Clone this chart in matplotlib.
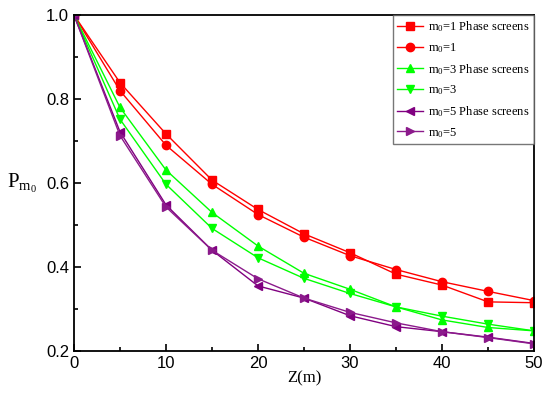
import matplotlib
matplotlib.use("Agg")
from matplotlib import pyplot as plt

plt.rcParams['mathtext.fontset'] = 'custom'
plt.rcParams['mathtext.rm'] = 'Liberation Serif'
plt.rcParams['mathtext.it'] = 'Liberation Serif'

z = [0, 5, 10, 15, 20, 25, 30, 35, 40, 45, 50]
m1_ps = [1.0, 0.839, 0.717, 0.607, 0.537, 0.479, 0.434, 0.383, 0.357, 0.317, 0.315]
m1 = [1.0, 0.820, 0.690, 0.597, 0.525, 0.471, 0.427, 0.394, 0.365, 0.342, 0.320]
m3_ps = [1.0, 0.780, 0.631, 0.530, 0.450, 0.385, 0.347, 0.305, 0.274, 0.256, 0.248]
m3 = [1.0, 0.752, 0.597, 0.492, 0.422, 0.373, 0.337, 0.305, 0.283, 0.264, 0.248]
m5_ps = [1.0, 0.722, 0.548, 0.440, 0.355, 0.326, 0.284, 0.258, 0.246, 0.233, 0.218]
m5 = [1.0, 0.713, 0.543, 0.440, 0.372, 0.326, 0.292, 0.267, 0.246, 0.232, 0.217]

x_ticks = [0, 10, 20, 30, 40, 50]
y_ticks = [0.2, 0.4, 0.6, 0.8, 1.0]
labels = [r'$\mathrm{m}_0$=1 Phase screens', r'$\mathrm{m}_0$=1',
          r'$\mathrm{m}_0$=3 Phase screens', r'$\mathrm{m}_0$=3',
          r'$\mathrm{m}_0$=5 Phase screens', r'$\mathrm{m}_0$=5']

fig = plt.figure(figsize=(5.5, 3.96), dpi=100)
ax = fig.add_axes([0.1345, 0.1136, 0.8365, 0.8484])

series = [(m1_ps, '#FF0000', 's'), (m1, '#FF0000', 'o'),
          (m3_ps, '#00FF00', '^'), (m3, '#00FF00', 'v'),
          (m5_ps, '#800080', '<'), (m5, '#8B1A8B', '>')]
for (vals, c, mk), lab in zip(series, labels):
    ax.plot(z, vals, color=c, marker=mk, markersize=6, linewidth=1.0, label=lab)

ax.set_xlim(0, 50)
ax.set_ylim(0.2, 1.0)
ax.set_xticks(x_ticks)
ax.set_xticks([5, 15, 25, 35, 45], minor=True)
ax.set_yticks(y_ticks)
ax.set_yticks([0.3, 0.5, 0.7, 0.9], minor=True)
ax.set_xticklabels([str(v) for v in x_ticks], family='Liberation Sans')
ax.set_yticklabels(['%.1f' % v for v in y_ticks], family='Liberation Sans')
ax.tick_params(which='both', direction='in', top=False, right=False,
               labelsize=12, width=1.2)
ax.tick_params(which='major', length=5)
ax.tick_params(which='minor', length=3)
for s in ax.spines.values():
    s.set_linewidth(1.3)

ax.set_xlabel('Z(m)', family='Liberation Serif', fontsize=12, labelpad=0)
ax.set_ylabel(r'$\mathrm{P}_{\mathrm{m}_0}$', fontsize=15, rotation=0,
              va='center', ha='left')
ax.yaxis.set_label_coords(-0.145, 0.5)

leg = ax.legend(loc='upper right', borderaxespad=0, fancybox=False,
                prop={'family': 'Liberation Serif', 'size': 9},
                handlelength=2.1, labelspacing=0.55, edgecolor='#555555',
                handletextpad=0.4, borderpad=0.35)
leg.get_frame().set_linewidth(1.0)

fig.savefig('out.png', dpi=100)
